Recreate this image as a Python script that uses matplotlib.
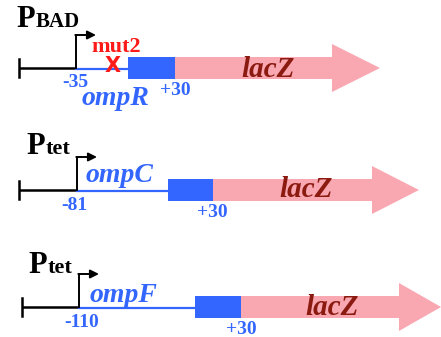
import matplotlib.pyplot as plt
from matplotlib.patches import Rectangle, Polygon

# Construct labels
promoters = ["BAD", "tet", "tet"]
genes = ["ompR", "ompC", "ompF"]
start_labels = ["-35", "-81", "-110"]
end_label = "+30"
reporter = "lacZ"
mutation = "mut2"

blue = "#3366ff"
pink = "#f9a8b2"
dark_red = "#8b1a10"
red = "#ff1a1a"
serif = "Liberation Serif"

# Layout per row (pixels): baseline y, left tick x, promoter x, box start/end, head base, tip
rows = [
    dict(y=68, x0=19, xp=76, xb0=128, xb1=175, xh=332, xt=380),
    dict(y=190, x0=19, xp=77, xb0=168, xb1=213, xh=372, xt=419),
    dict(y=307, x0=22, xp=79, xb0=195, xb1=241, xh=399, xt=441),
]
# text anchors (pixels): gene name, start label, end label, lacZ, P, subscript
gene_pos = [(116, 105), (120, 182), (123, 302)]
start_pos = [(75, 87), (74, 210), (82, 327)]
end_pos = [(175, 95), (212, 217), (241, 334)]
lacz_pos = [(268, 77), (306, 197), (332, 315)]
p_pos = [(16, 27), (26, 154), (28, 273)]
sub_pos = [(36, 27), (46, 154), (48, 273)]

fig = plt.figure(figsize=(4.41, 3.37), dpi=100)
ax = fig.add_axes([0, 0, 1, 1])
ax.set_xlim(0, 441)
ax.set_ylim(337, 0)
ax.axis("off")

for i, r in enumerate(rows):
    y = r["y"]
    bh, hh = 11, 24
    # black upstream line with end tick
    ax.plot([r["x0"], r["xp"]], [y, y], color="black", lw=1.8, solid_capstyle="butt")
    ax.plot([r["x0"], r["x0"]], [y - 9, y + 9], color="black", lw=1.8)
    # blue gene line
    ax.plot([r["xp"], r["xb0"]], [y + 1, y + 1], color=blue, lw=1.6)
    # promoter arrow
    ax.plot([r["xp"], r["xp"]], [y, y - 33], color="black", lw=1.4)
    ax.annotate("", xy=(r["xp"] + 20, y - 33), xytext=(r["xp"] - 0.7, y - 33),
                arrowprops=dict(arrowstyle="-|>,head_length=0.5,head_width=0.25",
                                color="black", lw=1.4, shrinkA=0, shrinkB=0))
    # blue box
    ax.add_patch(Rectangle((r["xb0"], y - bh), r["xb1"] - r["xb0"], 2 * bh,
                           color=blue, lw=0))
    # pink lacZ arrow
    ax.add_patch(Polygon([(r["xb1"], y - bh), (r["xh"], y - bh), (r["xh"], y - hh),
                          (r["xt"], y), (r["xh"], y + hh), (r["xh"], y + bh),
                          (r["xb1"], y + bh)], closed=True, color=pink, lw=0))
    ax.text(*lacz_pos[i], reporter, color=dark_red, family=serif,
            style="italic", weight="bold", fontsize=21, ha="center", va="baseline")
    # labels
    ax.text(*gene_pos[i], genes[i], color=blue, family=serif, style="italic",
            weight="bold", fontsize=20, ha="center", va="baseline")
    ax.text(*start_pos[i], start_labels[i], color=blue, family=serif,
            weight="bold", fontsize=14, ha="center", va="baseline")
    ax.text(*end_pos[i], end_label, color=blue, family=serif,
            weight="bold", fontsize=14, ha="center", va="baseline")
    ax.text(*p_pos[i], "P", color="black", family=serif, weight="bold",
            fontsize=22, ha="left", va="baseline")
    ax.text(*sub_pos[i], promoters[i], color="black", family=serif, weight="bold",
            fontsize=15 if i == 0 else 16, ha="left", va="baseline")

# mutation mark
ax.text(113, 72, "X", color=red, family="DejaVu Sans", weight="bold",
        fontsize=15, ha="center", va="baseline")
ax.text(116, 52, mutation, color=red, family=serif, weight="bold",
        fontsize=16, ha="center", va="baseline")

fig.savefig("out.png", dpi=100)
